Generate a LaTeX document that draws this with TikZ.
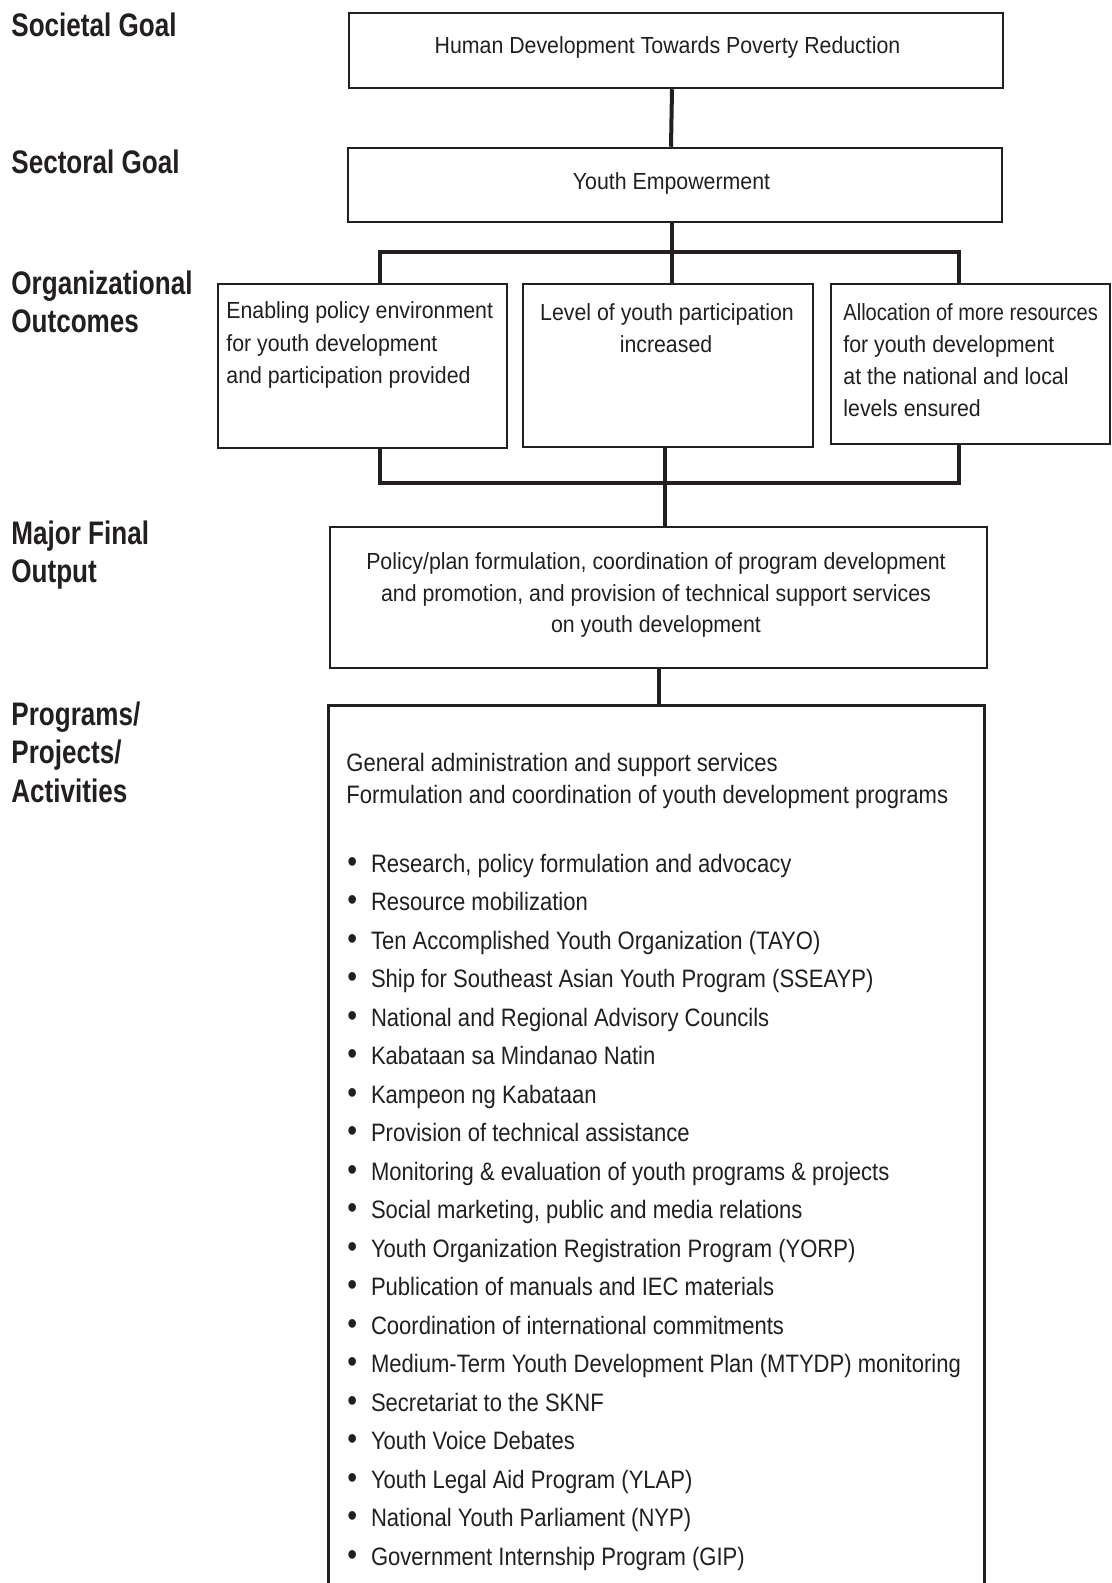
\documentclass[tikz,border=0pt]{standalone}
\usepackage{fontspec}
\setmainfont{Liberation Sans}
\newfontfamily\boxfont{Liberation Sans}[FakeStretch=0.915]
\newfontfamily\boxfontn{Liberation Sans}[FakeStretch=0.862]
\newfontfamily\listfont{Liberation Sans}[FakeStretch=0.875]
\newfontfamily\labfont{Liberation Sans}[FakeStretch=0.8]
\usetikzlibrary{fit}
\definecolor{ink}{HTML}{231F20}
\begin{document}
\begin{tikzpicture}[x=0.5pt,y=-0.5pt,
  box/.style={draw=ink, line width=1.25pt, inner sep=0pt},
  openbox/.style={draw=none, inner sep=0pt},
  conn/.style={draw=ink, line width=2pt},
  boxside/.style={draw=ink, line width=1.25pt},
  lab/.style={anchor=base west, inner sep=0pt, text=ink, font=\labfont\bfseries\fontsize{16.3}{19.2}\selectfont},
  btxt/.style={anchor=base, inner sep=0pt, text=ink, font=\boxfont\fontsize{11.65}{15.9}\selectfont},
  btxtl/.style={btxt, anchor=base west},
  item/.style={anchor=base west, inner sep=0pt, text=ink, font=\listfont\fontsize{12.6}{19.25}\selectfont},
]
\useasboundingbox (0,0) rectangle (1112,1583);

% ---- row labels ----
\node[lab] (l1)  at (11,37)  {Societal Goal};
\node[lab] (l2)  at (11,174) {Sectoral Goal};
\node[lab] (l3a) at (11,295) {Organizational};
\node[lab] (l3b) at (11,333) {Outcomes};
\node[lab] (l4a) at (11,544) {Major Final};
\node[lab] (l4b) at (11,582) {Output};
\node[lab] (l5a) at (11,725) {Programs/};
\node[lab] (l5b) at (11,763) {Projects/};
\node[lab] (l5c) at (11,802) {Activities};

% ---- boxes ----
\node[box, fit={(349,13) (1003,88)}] (b1) {};
\node[box, fit={(348,148) (1002,222)}] (b2) {};
\node[box, fit={(218,284) (507,448)}] (b3a) {};
\node[box, fit={(523,284) (813,447)}] (b3b) {};
\node[box, fit={(831,284) (1110,444)}] (b3c) {};
\node[box, fit={(330,527) (987,668)}] (b4) {};
\node[openbox, fit={(329,706) (984,1600)}] (b5) {};
\draw[boxside] (b5.south west) -- (b5.north west) -- (b5.north east) -- (b5.south east);

% ---- box texts ----
\node[btxt] (t1) at (667.5,54) {Human Development Towards Poverty Reduction};
\node[btxt] (t2) at (671.5,190) {Youth Empowerment};

\node[btxtl] (t3a1) at (226,319) {Enabling policy environment};
\node[btxtl] (t3a2) at (226,351) {for youth development};
\node[btxtl] (t3a3) at (226,383) {and participation provided};

\node[btxt] (t3b1) at (667,321) {Level of youth participation};
\node[btxt] (t3b2) at (666,352) {increased};

\node[btxtl, font=\boxfontn\fontsize{11.65}{15.9}\selectfont] (t3c1) at (843,321) {Allocation of more resources};
\node[btxtl] (t3c2) at (843,352) {for youth development};
\node[btxtl] (t3c3) at (843,384) {at the national and local};
\node[btxtl] (t3c4) at (843,416) {levels ensured};

\node[btxt] (t41) at (656,569) {Policy/plan formulation, coordination of program development};
\node[btxt] (t42) at (656,601) {and promotion, and provision of technical support services};
\node[btxt] (t43) at (656,632) {on youth development};

\node[item] (g1) at (346,771) {General administration and support services};
\node[item] (g2) at (346,803) {Formulation and coordination of youth development programs};

\foreach \t [count=\i from 0] in {
  {Research, policy formulation and advocacy},
  {Resource mobilization},
  {Ten Accomplished Youth Organization (TAYO)},
  {Ship for Southeast Asian Youth Program (SSEAYP)},
  {National and Regional Advisory Councils},
  {Kabataan sa Mindanao Natin},
  {Kampeon ng Kabataan},
  {Provision of technical assistance},
  {Monitoring \& evaluation of youth programs \& projects},
  {Social marketing, public and media relations},
  {Youth Organization Registration Program (YORP)},
  {Publication of manuals and IEC materials},
  {Coordination of international commitments},
  {Medium-Term Youth Development Plan (MTYDP) monitoring},
  {Secretariat to the SKNF},
  {Youth Voice Debates},
  {Youth Legal Aid Program (YLAP)},
  {National Youth Parliament (NYP)},
  {Government Internship Program (GIP)}}
{
  \node[item] (it\i) at (347,872+38.5*\i) {\makebox[11.8pt][l]{\fontsize{16}{16}\selectfont\textbullet}\t};
}

% ---- connectors ----
\draw[conn] ([xshift=-2pt]b1.south) -- ([xshift=-2pt]b2.north);
\coordinate (tl) at (380,252);
\coordinate (tr) at (959,252);
\draw[conn] ([xshift=-1.5pt]b2.south) -- ([xshift=-1.5pt]b2.south |- b3b.north);
\draw[conn] ([xshift=-1pt]tl) -- ([xshift=1pt]tr);
\draw[conn] (tl) -- (tl |- b3a.north);
\draw[conn] (tr) -- (tr |- b3c.north);

\coordinate (bl) at (380,483);
\coordinate (br) at (959,483);
\draw[conn] (bl |- b3a.south) -- (bl);
\draw[conn] (br |- b3c.south) -- (br);
\draw[conn] ([xshift=-1pt]bl) -- ([xshift=1pt]br);
\draw[conn] ([xshift=-1.5pt]b3b.south) -- ([xshift=-1.5pt]b3b.south |- b4.north);
\draw[conn] (b4.south) -- (b4.south |- b5.north);
\end{tikzpicture}
\end{document}
